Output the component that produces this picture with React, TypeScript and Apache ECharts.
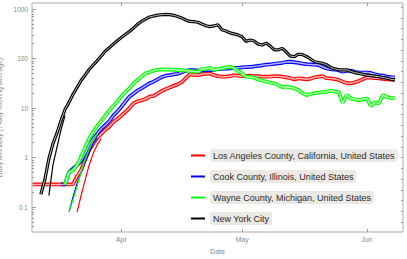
import { useEffect, useRef } from 'react';
import * as echarts from 'echarts';

const FONT = '"Liberation Sans", Arial, sans-serif';
const DAY = 86400000;
const START = Date.UTC(2020, 2, 10);
const dates: number[] = Array.from({ length: 91 }, (_, i) => START + i * DAY);

const X_MIN = START - 0.2 * DAY;
const X_MAX = Date.UTC(2020, 5, 10);
const Y_MIN = 0.0313;
const Y_MAX = 1322;

const monthTicks = [Date.UTC(2020, 3, 1), Date.UTC(2020, 4, 1), Date.UTC(2020, 5, 1)];
const monthLabels = ['Apr', 'May', 'Jun'];
const yMinorTicks = [
  0.04, 0.05, 0.06, 0.07, 0.08, 0.09,
  0.2, 0.3, 0.4, 0.5, 0.6, 0.7, 0.8, 0.9,
  2, 3, 4, 5, 6, 7, 8, 9,
  20, 30, 40, 50, 60, 70, 80, 90,
  200, 300, 400, 500, 600, 700, 800, 900,
];
const rightTicks = [-3, -2.5, -2, -1.5, -1, -0.5, 0, 0.5, 1, 1.5, 2, 2.5, 3, 3.5, 4, 4.5, 5, 5.5, 6, 6.5, 7];

const seriesNames = [
  'Los Angeles County, California, United States',
  'Cook County, Illinois, United States',
  'Wayne County, Michigan, United States',
  'New York City',
];

// Los Angeles (starts Mar 10)
const laStart = 0;
const laValues = [
  0.2857, 0.2857, 0.2857, 0.2857, 0.2857, 0.2857, 0.2857, 0.2857, 0.2857, 0.2857,
  0.29, 0.42, 0.56, 0.9, 1.4, 1.9, 2.5, 3.0, 3.6, 4.2,
  5.2, 6.0, 7.0, 8.3, 9.9, 12.5, 13.6, 14.3, 15.2, 16.9,
  17.5, 19.5, 22, 24, 26, 28, 30, 33, 40, 48,
  47, 46, 48, 49, 50, 46, 44, 43, 43, 44,
  46, 45, 44, 44, 45, 44, 44, 43, 43, 43,
  44, 44, 43, 41.7, 40, 38, 39.8, 39, 38, 39,
  41.7, 43, 44, 40, 39.5, 38.5, 37, 34, 32, 31.5,
  33, 35, 38, 41.7, 41, 40, 39.8, 39, 38, 37.5,
  37,
];
const laLowerStart = 11;
const laLower = [0.08, 0.17, 0.35, 0.7, 1.2, 1.8, 2.4];

// Cook (starts Mar 17)
const cookStart = 7;
const cookValues = [
  0.2857, 0.2857, 0.5,
  0.6, 0.7, 0.85, 1.2, 1.8, 2.4, 3.0, 3.8, 4.5, 5.4,
  7, 8.5, 10.5, 13.5, 16.9, 19.5, 22.5, 25, 28, 31.5,
  34, 38, 42, 45, 46, 48, 49, 53, 56, 58,
  58, 57, 57, 58.6, 58.6, 59, 61, 62, 62.5, 63,
  64, 65, 66, 67, 68, 69, 71, 73, 75, 76,
  78, 80, 82, 85, 86, 84, 82, 79, 77, 76,
  75, 74, 68, 63, 61, 60, 58, 54, 56, 57,
  54, 52, 52, 52, 51, 48, 46, 45, 43, 42,
  41.7,
];
const cookLowerStart = 9;
const cookLower = [0.08, 0.16, 0.3, 0.5, 0.8, 1.3, 1.9, 2.5];

// Wayne (starts Mar 18)
const wayneStart = 8;
const wayneValues = [
  0.2857, 0.5,
  0.55, 0.7, 1.05, 1.6, 2.4, 3.3, 4.3, 5.5, 7, 8.8,
  11, 13.5, 17, 21, 25, 31, 36.8, 43, 50, 53,
  57, 59, 60, 60.5, 60, 59, 58.6, 58, 57, 56,
  54.5, 54, 61, 62, 65, 59, 62, 63, 66, 68,
  64, 56, 50, 43, 42, 41, 37.5, 36, 34, 32.5,
  31.5, 29, 26.5, 27, 26, 25, 23, 20, 18.3, 19,
  20, 20.4, 21, 21.3, 22.4, 21.5, 21.3, 12.8, 18.3, 15.7,
  15, 14.5, 15, 15.7, 11, 13, 12.4, 18.3, 16.5, 16,
  15.7,
];
const wayneLowerStart = 9;
const wayneLower = [0.08, 0.14, 0.26, 0.5, 0.9, 1.5, 2.2, 3.0];

// New York City (starts Mar 12)
const nycStart = 2;
const nycValues = [
  0.18, 0.36, 0.95, 1.9, 3.1, 5.5, 9.3, 13,
  19, 26, 36, 46, 60, 74, 90, 112, 140, 165,
  195, 228, 265, 305, 350, 410, 490, 560, 625, 690,
  720, 750, 765, 780, 770, 745, 705, 660, 600, 560,
  555, 540, 500, 460, 440, 455, 480, 380, 360, 330,
  315, 300, 276, 222, 236, 225, 195, 187, 205, 178,
  150, 150, 160, 135, 112, 109, 122, 120, 110, 98,
  86, 83, 80, 75, 66, 62, 59, 59, 59, 55,
  52, 50, 48, 46, 45, 44, 43, 41, 40, 38,
  37,
];
const nycLowerStart = 4;
const nycLower = [0.17, 0.7, 1.6, 3.6, 7];

const colors = ['#ff0000', '#0000ff', '#00ff00', '#000000'];
const innerColors = ['#ffb3b3', '#b3b3ff', '#b3ffb3', '#bdbdbd'];
const fillColors = ['rgba(255,0,0,0.3)', 'rgba(0,0,255,0.3)', 'rgba(0,255,0,0.3)', 'rgba(0,0,0,0.22)'];

const groups = [
  { start: laStart, values: laValues, lowStart: laLowerStart, low: laLower },
  { start: cookStart, values: cookValues, lowStart: cookLowerStart, low: cookLower },
  { start: wayneStart, values: wayneValues, lowStart: wayneLowerStart, low: wayneLower },
  { start: nycStart, values: nycValues, lowStart: nycLowerStart, low: nycLower },
];

function buildSeries() {
  const out: any[] = [];
  groups.forEach((g, k) => {
    const base = g.low.map((v, j) => [dates[g.lowStart + j], v]);
    const top = g.low.map((v, j) => [dates[g.lowStart + j], g.values[g.lowStart + j - g.start] - v]);
    out.push({
      type: 'line', name: 'band-base-' + k, stack: 'band' + k, data: base,
      symbol: 'none', showSymbol: false, silent: true,
      lineStyle: { opacity: 0 }, z: 1,
    });
    out.push({
      type: 'line', name: 'band-top-' + k, stack: 'band' + k, data: top,
      symbol: 'none', showSymbol: false, silent: true,
      lineStyle: { opacity: 0 }, areaStyle: { color: fillColors[k], opacity: 1 }, z: 1,
    });
  });
  groups.forEach((g, k) => {
    const main = g.values.map((v, j) => [dates[g.start + j], v]);
    const low = g.low.map((v, j) => [dates[g.lowStart + j], v]);
    const w = k === 3 ? 3.2 : 3.8;
    const wi = k === 3 ? 1.0 : 1.5;
    out.push({
      type: 'line', name: 'low-' + k, data: low, symbol: 'none', showSymbol: false, silent: true,
      lineStyle: { color: colors[k], width: 1.2 }, z: 2,
    });
    out.push({
      type: 'line', name: seriesNames[k], data: main, symbol: 'none', showSymbol: false, silent: true,
      color: colors[k], itemStyle: { color: colors[k] },
      lineStyle: { color: colors[k], width: w }, z: 2,
    });
    out.push({
      type: 'line', name: 'inner-' + k, data: main, symbol: 'none', showSymbol: false, silent: true,
      lineStyle: { color: innerColors[k], width: wi }, z: 2,
    });
  });
  return out;
}

const fmtNum = (v: number) => String(parseFloat(Number(v).toPrecision(6)));

export default function App() {
  const ref = useRef<HTMLDivElement>(null);
  useEffect(() => {
    if (!ref.current) return;
    const chart = echarts.init(ref.current, null, { renderer: 'svg' });
    const tickColor = '#9a9a9a';
    const labelColor = '#8a8a8a';
    const hiddenLine = { show: false, onZero: false };
    chart.setOption({
      animation: false,
      backgroundColor: '#ffffff',
      textStyle: { fontFamily: FONT },
      grid: {
        left: 32, right: 4, top: 3, bottom: 27, show: true,
        borderColor: '#ababab', borderWidth: 1, backgroundColor: 'transparent',
        containLabel: false, outerBoundsMode: 'none',
      },
      legend: {
        data: seriesNames,
        orient: 'vertical',
        left: 191,
        top: 149,
        padding: 0,
        icon: 'rect',
        itemWidth: 14,
        itemHeight: 2,
        itemGap: 8,
        selectedMode: false,
        textStyle: {
          fontFamily: FONT, fontSize: 9, color: '#2a2a2a',
          backgroundColor: '#ece8e4', borderRadius: 3, padding: [2, 3, 2, 3], lineHeight: 9,
        },
      },
      xAxis: [
        {
          type: 'value', min: X_MIN, max: X_MAX, position: 'bottom',
          axisLine: hiddenLine, splitLine: { show: false },
          axisTick: { show: true, inside: true, length: 3, customValues: monthTicks, lineStyle: { color: tickColor } },
          axisLabel: {
            customValues: monthTicks, fontSize: 7, color: labelColor, margin: 4, fontFamily: FONT,
            formatter: (v: number) => {
              const idx = monthTicks.findIndex((t) => Math.abs(t - v) < DAY / 2);
              return idx >= 0 ? monthLabels[idx] : '';
            },
          },
          name: 'Date', nameLocation: 'middle', nameGap: 16,
          nameTextStyle: { fontSize: 7, color: labelColor, fontFamily: FONT },
        },
        {
          type: 'value', min: X_MIN, max: X_MAX, position: 'top',
          axisLine: hiddenLine, splitLine: { show: false },
          axisTick: { show: true, inside: true, length: 3, customValues: monthTicks, lineStyle: { color: tickColor } },
          axisLabel: { show: false },
        },
      ],
      yAxis: [
        {
          type: 'log', min: Y_MIN, max: Y_MAX, position: 'left',
          axisLine: hiddenLine, splitLine: { show: false }, minorTick: { show: false },
          axisTick: { show: true, inside: true, length: 4, lineStyle: { color: tickColor } },
          axisLabel: {
            fontSize: 6.5, color: labelColor, margin: 4, fontFamily: FONT,
            showMinLabel: false, showMaxLabel: false, formatter: (v: number) => fmtNum(v),
          },
          name: 'Daily Mortality (7-day moving average)', nameLocation: 'middle', nameGap: 20,
          nameTextStyle: { fontSize: 7, color: labelColor, fontFamily: FONT },
        },
        {
          type: 'log', min: Y_MIN, max: Y_MAX, position: 'left',
          axisLine: hiddenLine, splitLine: { show: false },
          axisTick: { show: true, inside: true, length: 2, customValues: yMinorTicks, lineStyle: { color: tickColor } },
          axisLabel: { show: false },
        },
        {
          type: 'value', min: Math.log(Y_MIN), max: Math.log(Y_MAX), position: 'right',
          axisLine: hiddenLine, splitLine: { show: false },
          axisTick: { show: true, inside: true, length: 2, customValues: rightTicks, lineStyle: { color: tickColor } },
          axisLabel: { show: false },
        },
      ],
      series: buildSeries(),
    });
    return () => chart.dispose();
  }, []);
  return <div ref={ref} style={{ position: 'absolute', left: 0, top: 0, width: 407, height: 259 }} />;
}
